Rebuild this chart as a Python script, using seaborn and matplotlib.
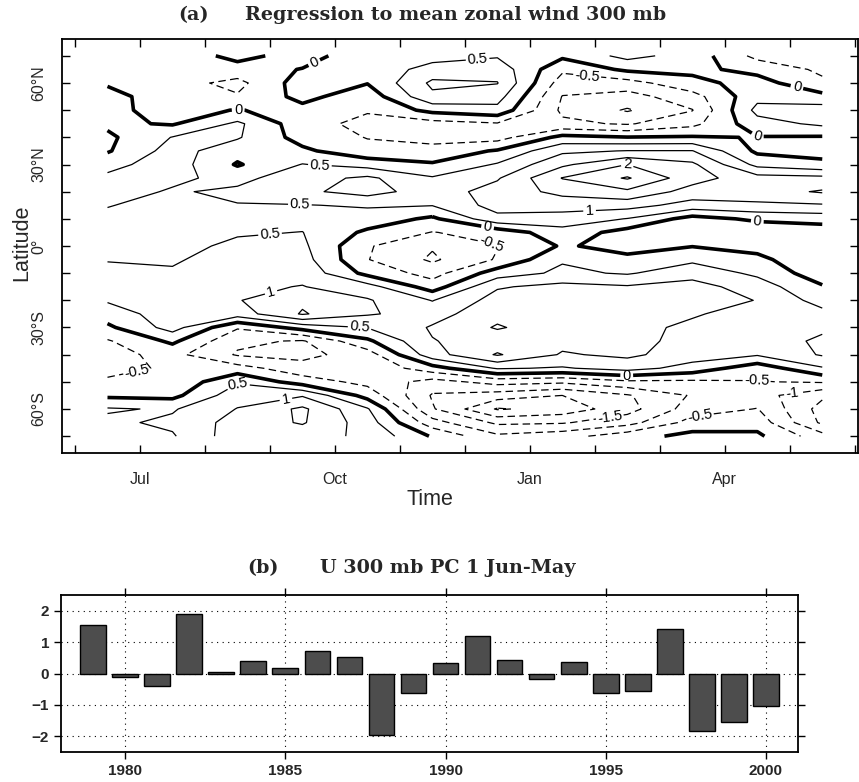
import numpy as np
import matplotlib
matplotlib.use("Agg")
import matplotlib.pyplot as plt
import seaborn as sns

# ---- panel (a): regression of 300 mb zonal wind on PC 1 (lat x month) ----
months = ["Jun", "Jul", "Aug", "Sep", "Oct", "Nov", "Dec", "Jan", "Feb", "Mar", "Apr", "May"]
lats = np.arange(70, -75, -5)   # 70N ... 70S

# one column per month, values from 70N down to 70S
u_jun = [-0.3, -0.2, -0.05, 0.15, 0.1, 0.1, -0.1, -0.05, 0.35, 0.6, 0.7, 0.52, 0.4, 0.35, 0.4,
         0.48, 0.6, 0.65, 0.55, 0.25, -0.1, -0.55, -0.65, -0.6, -0.45, -0.1, 0.55, 0.4, 0.35]
u_jul = [-0.3, -0.3, -0.3, -0.25, -0.15, -0.05, 0.52, 0.7, 0.75, 0.6, 0.45, 0.35, 0.3, 0.3, 0.35,
         0.45, 0.55, 0.7, 0.8, 0.75, 0.7, 0.1, -0.35, -0.45, -0.4, -0.15, 0.45, 0.6, 0.45]
u_aug = [0.15, -0.2, -0.65, -0.45, 0.02, 0.6, 0.55, 0.2, -0.05, 0.35, 0.6, 0.48, 0.4, 0.45, 0.6,
         0.7, 0.8, 0.9, 0.97, 0.75, -0.45, -0.9, -1.05, -0.3, 0.45, 0.8, 1.02, 1.2, 1.3]
u_sep = [-0.2, 0.02, 0.25, 0.15, -0.15, -0.3, -0.2, 0.1, 0.52, 0.8, 0.9, 0.48, 0.35, 0.51, 0.6,
         0.7, 0.85, 1.02, 1.4, 1.55, 0.2, -1.05, -1.15, -0.8, -0.25, 0.95, 1.6, 1.55, 1.2]
u_oct = [0.3, 0.15, 0.02, -0.3, -0.45, -0.65, -0.52, -0.35, 0.3, 1.1, 1.2, 0.55, 0.3, -0.1, -0.45,
         -0.48, -0.15, 0.7, 1.05, 1.05, 0.52, -0.1, -0.75, -0.9, -0.65, -0.2, 0.55, 0.75, 0.9]
u_nov = [0.3, 0.7, 1.1, 0.9, 0.15, -0.7, -0.7, -0.3, 0.05, 0.55, 0.75, 0.52, -0.1, -0.52, -0.95,
         -1.08, -0.7, -0.25, 0.48, 0.8, 1.05, 0.98, 0.8, -0.2, -1.2, -1.55, -1.45, -0.8, -0.05]
u_dec = [0.45, 0.8, 1.02, 0.7, 0.35, -0.55, -0.7, 0.05, 0.55, 0.95, 1.2, 1.2, 0.85, -0.3, -0.52,
         -0.45, 0.25, 0.95, 1.2, 1.35, 1.55, 1.2, 1.55, 0.55, -0.8, -1.75, -2.55, -1.6, -0.9]
u_jan = [0.1, -0.4, -0.75, -1.02, -1.1, -0.9, 0.15, 0.9, 1.4, 2.02, 1.65, 1.2, 0.8, 0.3, 0.05,
         0.45, 0.6, 1.15, 1.3, 1.3, 1.2, 1.15, 0.95, 0.45, -0.9, -2.0, -2.3, -1.55, -0.7]
u_feb = [0.65, 0.1, -0.7, -1.2, -1.55, -1.05, 0.02, 1.02, 2.0, 2.55, 1.9, 1.2, 0.48, -0.2, -0.15,
         0.1, 0.45, 1.05, 1.25, 1.2, 1.15, 1.2, 1.1, 0.7, -0.6, -1.55, -1.7, -1.2, -0.2]
u_mar = [0.3, 0.12, -0.15, -0.7, -1.02, -0.65, 0.05, 1.02, 1.6, 1.7, 1.3, 0.8, -0.2, -0.4, -0.02,
         0.4, 0.8, 1.2, 1.3, 1.05, 0.9, 0.8, 0.75, 0.3, -0.6, -0.95, -0.75, -0.3, 0.15]
u_apr = [-0.65, -0.15, 0.2, 0.35, 0.65, 0.3, -0.02, -0.1, 0.35, 1.2, 1.3, 0.9, 0.1, -0.4, -0.2,
         0.15, 0.4, 0.75, 0.98, 0.8, 0.55, 0.7, 0.55, -0.3, -0.52, -0.8, -0.48, -0.2, 0.1]
u_may = [-0.8, -0.6, -0.4, 0.15, 0.75, 0.6, -0.05, -0.15, 0.1, 1.15, 1.55, 0.95, 0.2, -0.3, -0.48,
         -0.48, -0.3, 0.05, 0.3, 0.65, 0.9, 1.1, 1.05, 0.45, -0.45, -1.4, -1.7, -1.6, -0.8]

levels = [-2.5, -2, -1.5, -1, -0.5, 0, 0.5, 1, 1.5, 2, 2.5]
lat_ticks = np.arange(-70, 71, 10)
lat_labels = {60: "60°N", 30: "30°N", 0: "0°", -30: "30°S", -60: "60°S"}
month_labels = {1: "Jul", 4: "Oct", 7: "Jan", 10: "Apr"}

# where the contour labels sit (month, latitude)
label_spots = [(3.72, 65.5), (2.51, 49.7), (6.2, 67.4), (7.88, 62.2), (11.1, 57.4),
               (10.5, 40.1), (3.77, 30.2), (8.5, 30.3), (3.46, 14.4), (7.92, 12.5),
               (6.35, 7.0), (6.42, 2.2), (10.5, 8.8), (3.0, 4.8), (3.0, -15.5),
               (4.38, -30.2), (0.95, -45.6), (2.51, -50.4), (3.26, -58.5), (8.49, -48.2),
               (10.49, -50.0), (11.05, -55.6), (8.23, -62.9), (9.62, -63.3)]

# ---- panel (b): PC 1 time series ----
years = np.arange(1979, 2001)
pc1 = [1.55, -0.11, -0.41, 1.88, 0.04, 0.40, 0.16, 0.73, 0.54, -1.95, -0.62,
       0.32, 1.21, 0.43, -0.18, 0.37, -0.62, -0.56, 1.43, -1.82, -1.53, -1.03]

sns.set_style("ticks")
plt.rcParams["font.family"] = ["Liberation Sans", "DejaVu Sans"]

W, H = 859, 782
fig = plt.figure(figsize=(W / 100, H / 100), dpi=100)

# ---------------- (a) ----------------
ax1 = fig.add_axes([62 / W, 1 - 453 / H, 796 / W, 414 / H])
Z = np.column_stack([u_jun, u_jul, u_aug, u_sep, u_oct, u_nov,
                     u_dec, u_jan, u_feb, u_mar, u_apr, u_may])
X, Y = np.meshgrid(np.arange(len(months)) + 0.5, lats)

lws = [2.6 if lv == 0 else 0.9 for lv in levels]
lss = ["solid" if lv >= 0 else (0, (6, 3.5)) for lv in levels]
cs = ax1.contour(X, Y, Z, levels=levels, colors="black", linewidths=lws, linestyles=lss)
ax1.clabel(cs, manual=label_spots, fmt="%g", fontsize=10.5, inline=True, inline_spacing=3)

ax1.set_xlim(-0.2, 12.05)
ax1.set_ylim(-76.2, 76.2)
ax1.set_xticks(np.arange(13))
ax1.set_xticklabels([month_labels.get(i, "") for i in range(13)])
ax1.set_yticks(lat_ticks)
ax1.set_yticklabels([lat_labels.get(int(v), "") for v in lat_ticks], rotation=90, va="center")
ax1.tick_params(direction="in", top=True, right=True, length=6, width=1,
                labelsize=11.5, color="black")
ax1.tick_params(axis="x", pad=14)
ax1.tick_params(axis="y", pad=11)
for s in ax1.spines.values():
    s.set_linewidth(1.3)
    s.set_color("black")
ax1.set_xlabel("Time", fontsize=15.5)
ax1.xaxis.set_label_coords((430 - 62) / 796, (453 - 489) / 414)
ax1.set_ylabel("Latitude", fontsize=15.5)
ax1.yaxis.set_label_coords((32 - 62) / 796, (453 - 243) / 414)

fig.text(178 / W, 1 - 15 / H, "(a)", family="DejaVu Serif", weight="bold",
         fontsize=13.8, va="center", ha="left")
fig.text(245 / W, 1 - 15 / H, "Regression to mean zonal wind 300 mb", family="DejaVu Serif",
         weight="bold", fontsize=13.8, va="center", ha="left")

# ---------------- (b) ----------------
ax2 = fig.add_axes([61 / W, 1 - 752 / H, 737 / W, 157 / H])
sns.barplot(x=years, y=pc1, native_scale=True, width=0.8, color="#4d4d4d",
            saturation=1, edgecolor="black", linewidth=1, errorbar=None, ax=ax2)
ax2.set_xlim(1978, 2001)
ax2.set_ylim(-2.5, 2.5)
ax2.set_xticks(np.arange(1980, 2001, 5))
ax2.set_yticks([-2, -1, 0, 1, 2])
ax2.grid(True, linestyle=(0, (1, 4)), color="black", linewidth=0.8)
ax2.set_axisbelow(True)
ax2.tick_params(direction="out", top=True, right=True, length=5, width=1,
                labelsize=11, color="black")
for lab in ax2.get_xticklabels() + ax2.get_yticklabels():
    lab.set_fontweight("bold")
for s in ax2.spines.values():
    s.set_linewidth(1.3)
    s.set_color("black")
ax2.set_xlabel("")
ax2.set_ylabel("")

fig.text(247 / W, 1 - 568 / H, "(b)", family="DejaVu Serif", weight="bold",
         fontsize=13.8, va="center", ha="left")
fig.text(320 / W, 1 - 568 / H, "U 300 mb PC 1 Jun-May", family="DejaVu Serif",
         weight="bold", fontsize=13.8, va="center", ha="left")

fig.savefig("out.png", dpi=100)
